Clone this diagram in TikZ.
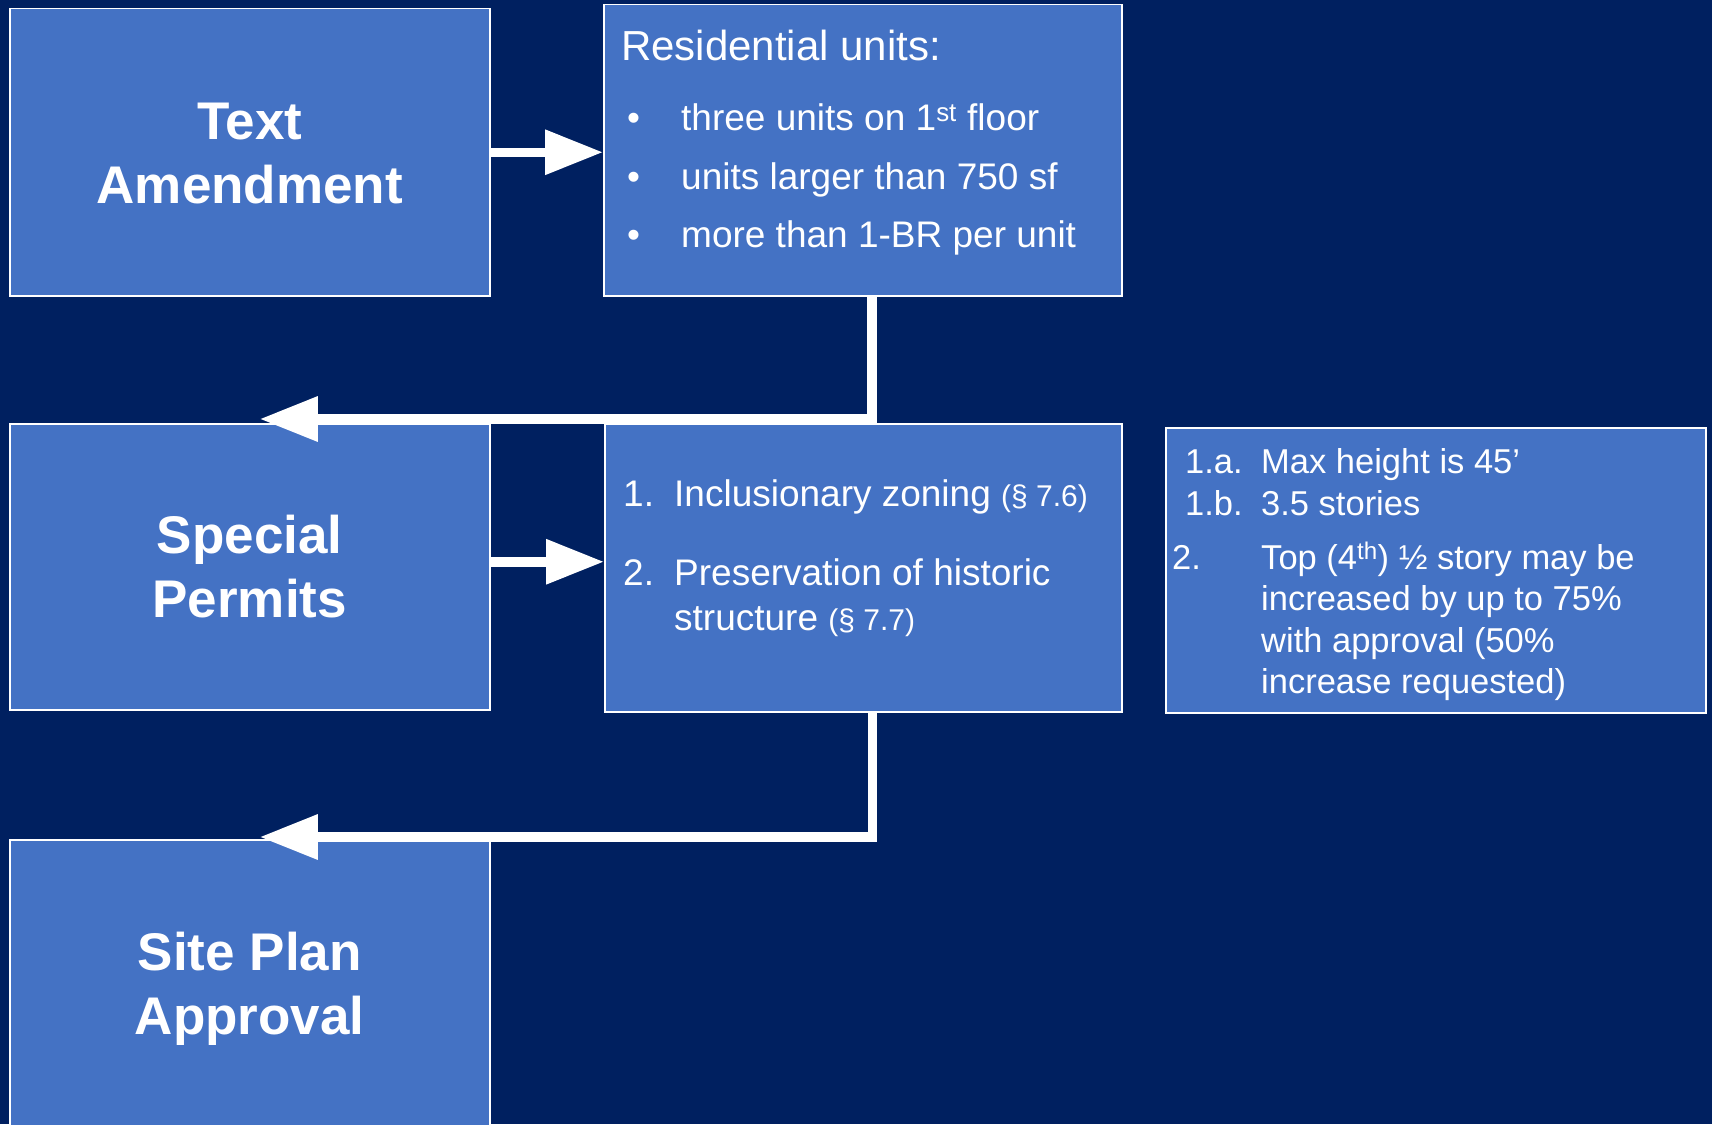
\documentclass[tikz,border=0pt]{standalone}
\usepackage{fontspec}
\setmainfont{Liberation Sans}
\usetikzlibrary{arrows.meta}
\definecolor{navy}{HTML}{002060}
\definecolor{boxblue}{HTML}{4472C4}
\tikzset{
  panel/.style={draw=white, line width=1.5pt, fill=boxblue, inner sep=0pt, anchor=north west},
  title/.style={text=white, font=\fontsize{53}{64}\selectfont\bfseries, align=center},
  item/.style={text=white, anchor=base west, inner sep=0pt, font=\fontsize{37}{44}\selectfont},
  note/.style={item, font=\fontsize{34.5}{41}\selectfont},
  conn/.style={draw=white, line width=9.5pt, line join=miter, -{Triangle[length=58pt,width=43pt]}}
}
\newcommand{\refsize}{\fontsize{30}{36}\selectfont}
\begin{document}
\begin{tikzpicture}[x=1pt,y=-1pt]
    \useasboundingbox (0,0) rectangle (1712,1124);
    \fill[navy] (0,0) rectangle (1712,1124);
    \node[panel, minimum width=480pt, minimum height=287pt] (ta) at (9,8) {};
    \node[panel, minimum width=518pt, minimum height=291pt] (res) at (603,4) {};
    \node[panel, minimum width=480pt, minimum height=286pt] (sp) at (9,423) {};
    \node[panel, minimum width=517pt, minimum height=288pt] (mid) at (604,423) {};
    \node[panel, minimum width=540pt, minimum height=285pt] (hgt) at (1165,427) {};
    \node[panel, minimum width=480pt, minimum height=300pt] (spa) at (9,839) {};
    \node[title] (tatext) at ([yshift=-1pt]ta.center) {Text\\Amendment};
    \node[title] (sptext) at (sp.center) {Special\\Permits};
    \node[title] (spatext) at ([yshift=1pt]spa.center) {Site Plan\\Approval};
    % residential units
    \node[item, font=\fontsize{42}{50}\selectfont] (reshead) at (621,60) {Residential units:};
    \foreach \t [count=\i] in {{three units on 1\textsuperscript{st} floor},
        {units larger than 750 sf}, {more than 1-BR per unit}}
    {
    \node[item] (dot\i) at (627,72+58.5*\i) {\textbullet};
    \node[item] (unit\i) at (681,72+58.5*\i) {\t};
    }
    % permits
    \node[item] (num1) at (623,506) {1.};
    \node[item] (perm1) at (674,506) {Inclusionary zoning {\refsize(§ 7.6)}};
    \node[item] (num2) at (623,585) {2.};
    \node[item] (perm2) at (674,585) {Preservation of historic};
    \node[item] (perm2b) at (674,630) {structure {\refsize(§ 7.7)}};
    % height notes
    \node[note] (na) at (1185,473) {1.a.};
    \node[note] (ha) at (1261,473) {Max height is 45’};
    \node[note] (nb) at (1185,515) {1.b.};
    \node[note] (hb) at (1261,515) {3.5 stories};
    \node[note] (nc) at (1172,569) {2.};
    \foreach \t [count=\i] in {{Top (4\textsuperscript{th}) ½ story may be},
        {increased by up to 75\%}, {with approval (50\%}, {increase requested)}}
    \node[note] (hc\i) at (1261,569+41.5*\i-41.5) {\t};
    \draw[conn] (ta.east) -- (ta.east -| res.west);
    \draw[conn] ([yshift=5pt]sp.east) -- ([yshift=5pt]sp.east -| mid.west);
    \draw[conn] ([xshift=9pt]res.south) |- ([xshift=10pt,yshift=4pt]sp.north);
    \draw[conn] ([xshift=9pt]mid.south) |- ([xshift=10pt,yshift=2pt]spa.north);
  \end{tikzpicture}
\end{document}
